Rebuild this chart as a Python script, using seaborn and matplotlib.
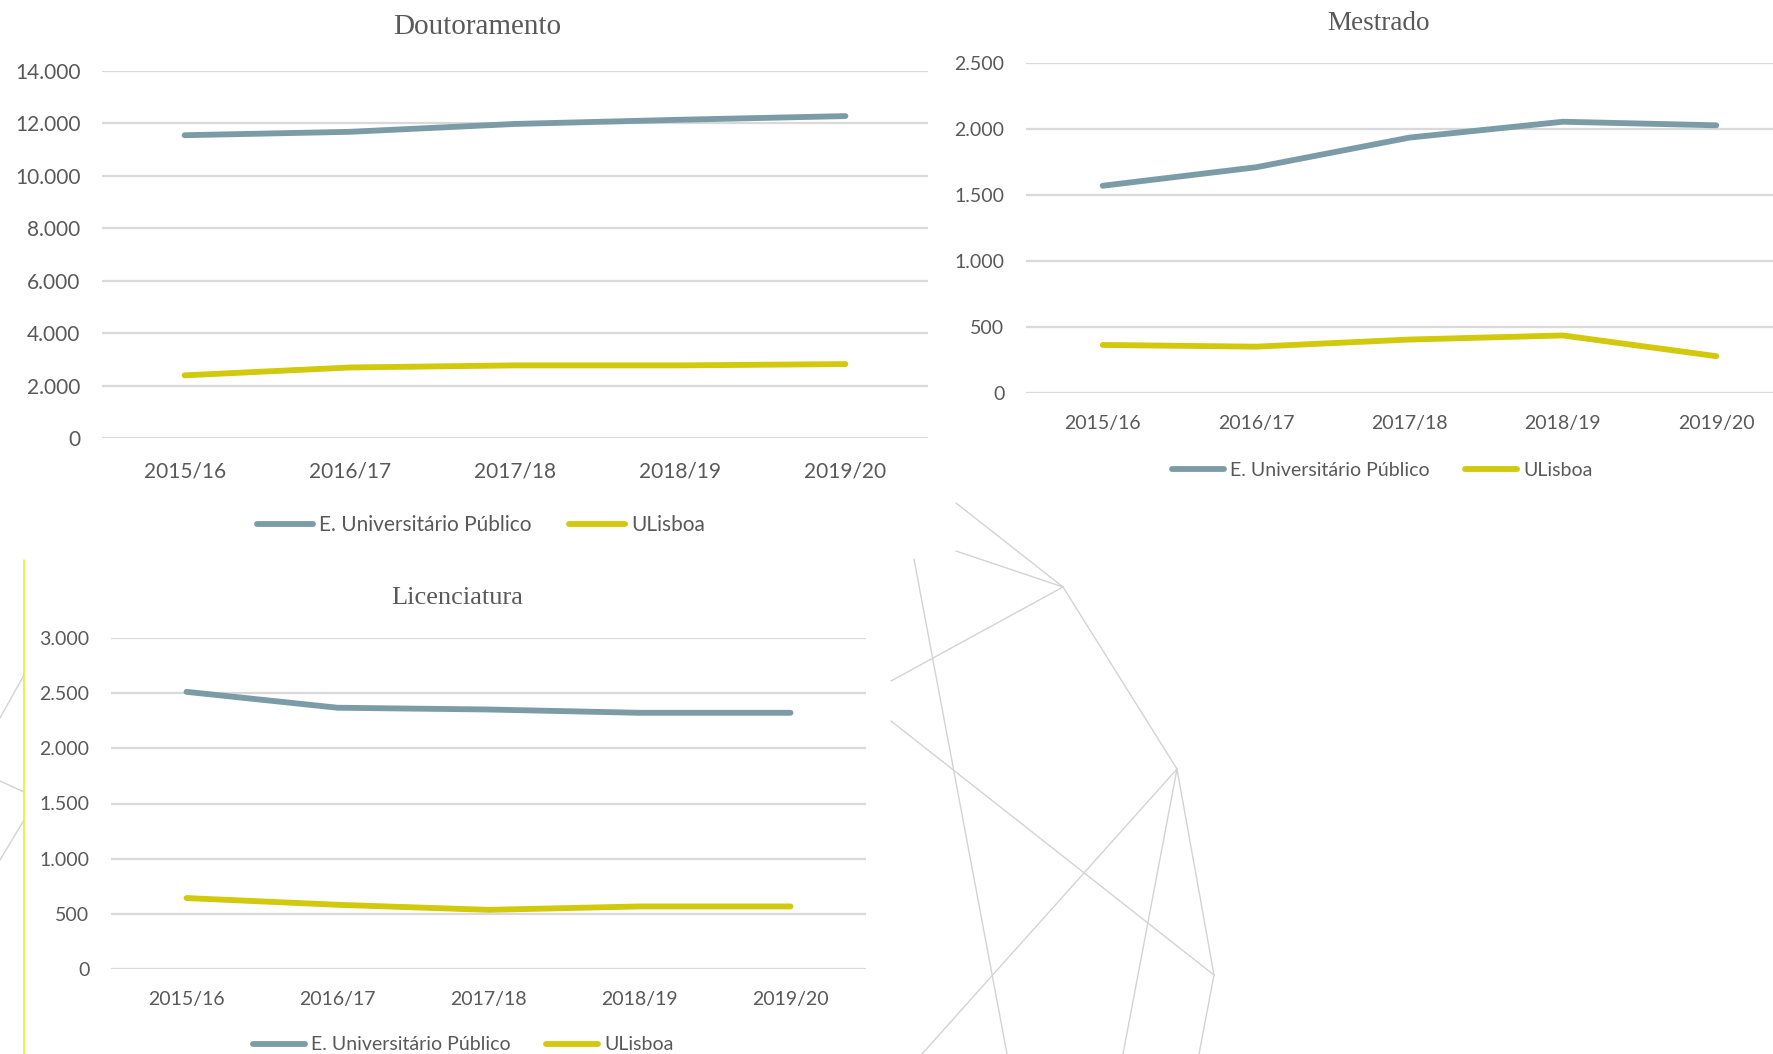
import pandas as pd
import seaborn as sns
import matplotlib.pyplot as plt
from matplotlib.lines import Line2D
from matplotlib.ticker import FuncFormatter, MultipleLocator

# dados
anos = ["2015/16", "2016/17", "2017/18", "2018/19", "2019/20"]
series = ["E. Universitário Público", "ULisboa"]

dout_eup = [11550, 11680, 11980, 12140, 12280]
dout_ul = [2390, 2690, 2770, 2770, 2820]
mest_eup = [1570, 1710, 1935, 2055, 2028]
mest_ul = [364, 351, 405, 436, 279]
lic_eup = [2512, 2368, 2352, 2322, 2322]
lic_ul = [643, 582, 536, 567, 567]

cores = {"E. Universitário Público": "#7B9CA6", "ULisboa": "#D2C80C"}
cinza = "#595959"

sns.set_style("white")
plt.rcParams['font.family'] = ['Lato', 'DejaVu Sans']

W, H = 1774, 1054
fig = plt.figure(figsize=(W / 100, H / 100), dpi=100)


def tabela(eup, ul):
    return pd.DataFrame({
        "ano": anos * 2,
        "valor": eup + ul,
        "serie": [series[0]] * 5 + [series[1]] * 5,
    })


def eixo(px, titulo, eup, ul, ymax, passo, fs, tfs, titulo_xy, leg_xy, xpad):
    x0, y0, x1, y1 = px
    ax = fig.add_axes([x0 / W, 1 - y1 / H, (x1 - x0) / W, (y1 - y0) / H])
    sns.lineplot(data=tabela(eup, ul), x="ano", y="valor", hue="serie",
                 palette=cores, sort=False, linewidth=4.2, ax=ax,
                 solid_capstyle='round')
    ax.set_xlim(-0.5, 4.5)
    ax.set_ylim(0, ymax)
    ax.yaxis.set_major_locator(MultipleLocator(passo))
    ax.yaxis.set_major_formatter(FuncFormatter(lambda v, p: f"{int(v):,}".replace(",", ".")))
    ax.grid(axis='y', color='#D9D9D9', linewidth=1.6)
    ax.set_axisbelow(True)
    for s in ax.spines.values():
        s.set_visible(False)
    ax.set_xlabel("")
    ax.set_ylabel("")
    ax.tick_params(axis='y', length=0, pad=15.5, labelsize=fs, labelcolor=cinza)
    ax.tick_params(axis='x', length=0, pad=xpad, labelsize=fs, labelcolor=cinza)
    handles, labels = ax.get_legend_handles_labels()
    ax.legend(handles, labels, loc='center', ncol=2, frameon=False,
              bbox_to_anchor=(leg_xy[0] / W, 1 - leg_xy[1] / H),
              bbox_transform=fig.transFigure, fontsize=fs, labelcolor=cinza,
              handlelength=2.7, handletextpad=0.3, columnspacing=1.8)
    fig.text(titulo_xy[0] / W, 1 - titulo_xy[1] / H, titulo, ha='center', va='center',
             family='Liberation Serif', fontsize=tfs, color=cinza)
    return ax


# linhas decorativas do fundo (coordenadas em píxeis da figura)
decor = [
    ((956, 503), (1063, 587)), ((956, 551), (1063, 587)), ((891, 681), (1063, 587)),
    ((1063, 587), (1177, 769)), ((914, 559), (1007, 1054)), ((891, 721), (1214, 975)),
    ((1177, 769), (922, 1054)), ((1177, 769), (1123, 1054)), ((1177, 769), (1214, 975)),
    ((1214, 975), (1199, 1054)), ((0, 718), (24, 675)), ((0, 781), (24, 792)),
    ((0, 860), (24, 820)),
]
for (a, b) in decor:
    fig.add_artist(Line2D([a[0] / W, b[0] / W], [1 - a[1] / H, 1 - b[1] / H],
                          color='#D3D3D3', linewidth=1.0, zorder=0))
fig.add_artist(Line2D([24 / W, 24 / W], [1 - 560 / H, 0], color='#F2EA2A', linewidth=1.2, zorder=0))

eixo((102, 71, 928, 438), "Doutoramento", dout_eup, dout_ul, 14000, 2000, 15, 21,
     (477, 27), (481, 525), 17)
eixo((1026, 63, 1793, 393), "Mestrado", mest_eup, mest_ul, 2500, 500, 14, 19.5,
     (1379, 23), (1382, 470), 15.5)
eixo((111, 638, 866, 969), "Licenciatura", lic_eup, lic_ul, 3000, 500, 14, 19,
     (457, 598), (463, 1045), 15.5)

fig.savefig("out.png", dpi=100, facecolor='white')
